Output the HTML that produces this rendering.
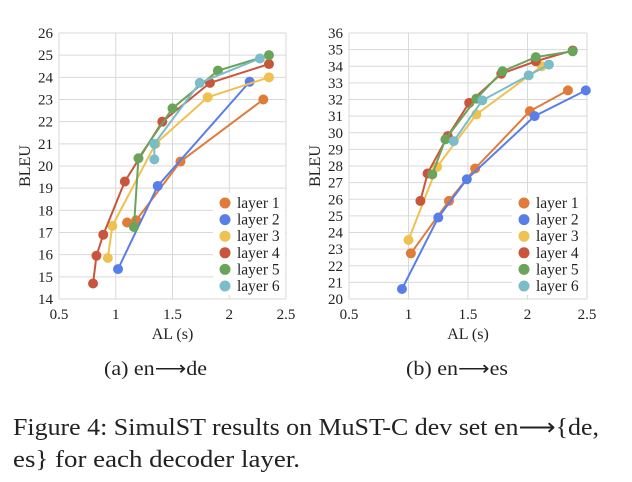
<!DOCTYPE html>
<html><head><meta charset="utf-8"><style>
html,body{margin:0;padding:0;background:#fff;width:632px;height:482px;overflow:hidden}
svg{position:absolute;left:0;top:0}
text{font-family:"Liberation Serif",serif;fill:#222}
</style></head><body>
<svg id="s" width="632" height="482"></svg>
<script>
const layerNames=["layer 1","layer 2","layer 3","layer 4","layer 5","layer 6"];
const colors=["#E07B39","#5A7EE8","#EFC150","#C9553D","#6AA35A","#7ABDC8"];
// chart a (en->de)
const aX1=[1.1,1.18,1.57,2.3], aY1=[17.45,17.55,20.2,23.0];
const aX2=[1.02,1.37,2.18], aY2=[15.35,19.1,23.8];
const aX3=[0.93,0.97,1.35,1.81,2.35], aY3=[15.85,17.3,21.0,23.1,24.0];
const aX4=[0.8,0.83,0.89,1.08,1.41,1.83,2.35], aY4=[14.7,15.95,16.9,19.3,22.0,23.75,24.6];
const aX5=[1.16,1.2,1.5,1.9,2.35], aY5=[17.25,20.35,22.6,24.3,25.0];
const aX6=[1.34,1.34,1.74,2.27], aY6=[20.3,21.0,23.75,24.85];
const aYTicks=[14,15,16,17,18,19,20,21,22,23,24,25,26];
// chart b (en->es)
const bX1=[1.02,1.34,1.56,2.02,2.34], bY1=[22.75,25.9,27.85,31.3,32.55];
const bX2=[0.945,1.25,1.49,2.06,2.49], bY2=[20.6,24.9,27.2,31.0,32.55];
const bX3=[1.0,1.24,1.57,2.12], bY3=[23.55,27.95,31.1,34.0];
const bX4=[1.1,1.16,1.33,1.51,1.78,2.07,2.38], bY4=[25.9,27.55,29.8,31.8,33.55,34.3,34.95];
const bX5=[1.2,1.31,1.57,1.79,2.07,2.38], bY5=[27.5,29.6,32.05,33.7,34.55,34.9];
const bX6=[1.38,1.62,2.01,2.18], bY6=[29.5,31.95,33.45,34.1];
const bYTicks=[20,21,22,23,24,25,26,27,28,29,30,31,32,33,34,35,36];
const xTicks=[0.5,1,1.5,2,2.5];
const xTickLabels=["0.5","1","1.5","2","2.5"];

const NS="http://www.w3.org/2000/svg";
const svg=document.getElementById('s');
function mk(tag,attrs,parent){const e=document.createElementNS(NS,tag);for(const k in attrs)e.setAttribute(k,attrs[k]);(parent||svg).appendChild(e);return e;}

function chart(id,L,R,T,B,ymin,ymax,yt,xs,ys,legX){
  const g=mk('g',{});
  
  
  const sx=v=>L+(v-0.5)/2*(R-L), sy=v=>B-(v-ymin)/(ymax-ymin)*(B-T);
  yt.forEach(v=>{const l=mk('line',{x1:L,x2:R,y1:sy(v),y2:sy(v),stroke:'#d9d9d9','stroke-width':1},g);
    
    const t=mk('text',{x:L-6,y:sy(v)+5,'text-anchor':'end','font-size':15},g);t.textContent=v;
    });
  xTicks.forEach((v,i)=>{const l=mk('line',{x1:sx(v),x2:sx(v),y1:T,y2:B,stroke:'#d9d9d9','stroke-width':1},g);
    
    const t=mk('text',{x:sx(v),y:B+20,'text-anchor':'middle','font-size':15},g);t.textContent=xTickLabels[i];
    });
  const yl=mk('text',{x:0,y:0,'text-anchor':'middle','font-size':16,transform:`translate(${L-29},${(T+B)/2}) rotate(-90)`},g);yl.textContent='BLEU';
  
  const xl=mk('text',{x:(L+R)/2,y:B+40,'text-anchor':'middle','font-size':16},g);xl.textContent='AL (s)';
  
  const bg=mk('rect',{x:legX-12,y:193,width:R-legX+11,height:102,fill:'#fff'},g);
  
  xs.forEach((X,s)=>{const Y=ys[s];
    const p=mk('polyline',{points:X.map((x,i)=>sx(x)+','+sy(Y[i])).join(' '),fill:'none',stroke:colors[s],'stroke-width':2},g);
    
    X.forEach((x,i)=>{const c=mk('circle',{cx:sx(x),cy:sy(Y[i]),r:5,fill:colors[s]},g);
      });
  });
  layerNames.forEach((n,s)=>{const y=203+s*16.6;
    const c=mk('circle',{cx:legX,cy:y,r:5.5,fill:colors[s]},g);
    
    const t=mk('text',{x:legX+12,y:y+5,'font-size':15.5},g);t.textContent=n;
    });
}
chart('chart-en-de',59,286,33,299,14,26,aYTicks,[aX1,aX2,aX3,aX4,aX5,aX6],[aY1,aY2,aY3,aY4,aY5,aY6],225);
chart('chart-en-es',349,587,33,299,20,36,bYTicks,[bX1,bX2,bX3,bX4,bX5,bX6],[bY1,bY2,bY3,bY4,bY5,bY6],524);
function txt(x,y,s,fs,len,name){const t=mk('text',{x:x,y:y,'font-size':fs,textLength:len,lengthAdjust:'spacingAndGlyphs'});t.textContent=s;
  }
txt(104,375,'(a) en\u27F6de',20,103,'subcaption-a');
txt(406,375,'(b) en\u27F6es',20,102,'subcaption-b');
txt(13,435,'Figure 4: SimulST results on MuST-C dev set en\u27F6{de,',24,586,'figure-caption-line-1');
txt(13,467,'es} for each decoder layer.',24,287,'figure-caption-line-2');
</script>
</body></html>
